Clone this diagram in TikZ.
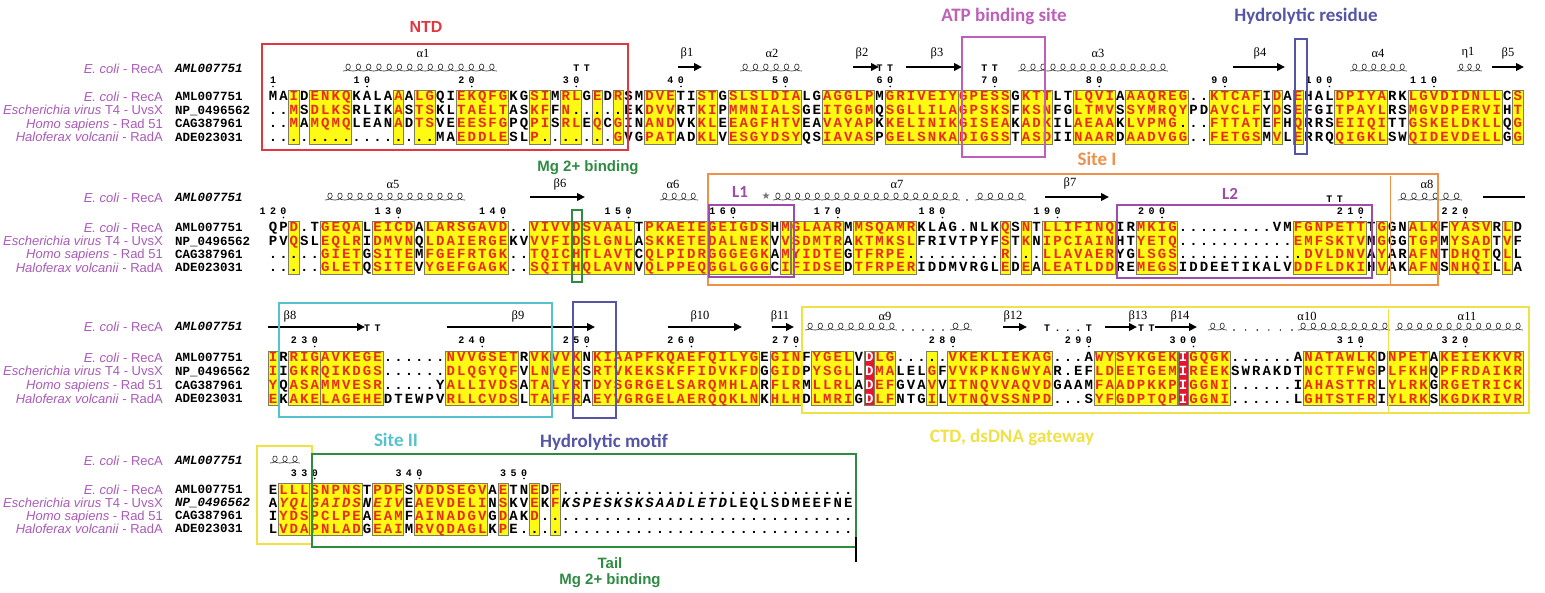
\documentclass[tikz,border=0pt]{standalone}
\usepackage{fontspec}
\setmainfont{Liberation Sans}
\newfontfamily\seqfont{Liberation Mono}
\newfontfamily\carl{Carlito}
\newfontfamily\serf{Liberation Serif}
\newfontfamily\djv{DejaVu Sans}
\usetikzlibrary{arrows.meta}
\definecolor{yel}{RGB}{255,250,20}
\definecolor{ybord}{RGB}{125,125,95}
\definecolor{seqred}{RGB}{232,45,20}
\definecolor{redbg}{RGB}{228,20,50}
\definecolor{ntdc}{RGB}{225,55,65}
\definecolor{atpc}{RGB}{190,95,185}
\definecolor{hydc}{RGB}{85,85,165}
\definecolor{sitec}{RGB}{240,145,75}
\definecolor{lc}{RGB}{160,75,170}
\definecolor{mgc}{RGB}{45,140,65}
\definecolor{cyc}{RGB}{85,195,205}
\definecolor{ctdc}{RGB}{240,225,70}
\definecolor{spc}{RGB}{170,90,185}
% ---------- sequence machinery ----------
\newcount\colc
\newcount\dcnt
\newif\ifinlist
\def\chkloop#1/#2,{\ifnum#1=0 \else\ifnum\colc<#1 \else\ifnum\colc>#2 \else\inlisttrue\fi\fi\expandafter\chkloop\fi}
\def\curital{999/999}
\def\placechar#1{%
  \pgfmathsetmacro\colx{273+(\the\colc-1)*10.46}%
  \def\chcol{black}%
  \inlistfalse\expandafter\chkloop\curyel,0/0,%
  \ifinlist\ifx#1.\else\def\chcol{seqred}\fi\fi
  \inlistfalse\expandafter\chkloop\curred,0/0,%
  \ifinlist\ifx#1.\else\def\chcol{white}\fi\fi
  \inlistfalse\expandafter\chkloop\curital,0/0,%
  \ifinlist\def\chfont{\itshape}\else\def\chfont{}\fi
  \node[seqch,text=\chcol] at (\colx,\rowy) {\chfont #1};}
\def\seqloop#1{\ifx#1\relax\else\global\advance\colc by 1 \placechar#1\expandafter\seqloop\fi}
\newcommand\seqrow[2]{\def\rowy{#1}\global\colc=0 \seqloop#2\relax}
\def\cntloop#1{\ifx#1\relax\else\advance\dcnt by 1 \expandafter\cntloop\fi}
\def\numloop#1{\ifx#1\relax\else\global\advance\colc by 1 \pgfmathsetmacro\colx{273+(\the\colc-1)*10.46}\node[numst] at (\colx,\rowy) {#1};\expandafter\numloop\fi}
\newcommand\numlab[3]{\def\rowy{#1}\dcnt=0 \cntloop#3\relax\global\colc=#2 \global\advance\colc by -\dcnt \numloop#3\relax\pgfmathsetmacro\colx{273+(#2-1)*10.46}\fill (\colx,#1+5.5) circle[radius=0.9pt];}
\newcommand\yboxes[3]{\foreach \a/\b in #1 {\fill[yel,draw=ybord,line width=0.6pt] ({273+(\a-1)*10.46-5.2},#2) rectangle ({273+(\b-1)*10.46+5.2},#3);}}
\newcommand\rbox[3]{\fill[redbg,draw=ybord,line width=0.6pt] ({273+(#1-1)*10.46-5.2},#2) rectangle ({273+(#1-1)*10.46+5.2},#3);}
% helix: a row of cursive loops standing on a baseline (#3)
\newcommand\helix[3]{\pgfmathtruncatemacro\nl{max(1,round((#2-#1)/10))}\pgfmathsetmacro\sl{(#2-#1)/\nl}%
  \foreach \k in {1,...,\nl} {\pgfmathsetmacro\xa{#1+(\k-1)*\sl}%
    \draw[helixst] (\xa,#3) .. controls ({\xa+0.4*\sl},#3) and ({\xa+0.72*\sl},{#3-2}) .. ({\xa+0.72*\sl},{#3-4})
      .. controls ({\xa+0.72*\sl},{#3-6}) and ({\xa+0.62*\sl},{#3-7}) .. ({\xa+0.5*\sl},{#3-7})
      .. controls ({\xa+0.38*\sl},{#3-7}) and ({\xa+0.28*\sl},{#3-6}) .. ({\xa+0.28*\sl},{#3-4})
      .. controls ({\xa+0.28*\sl},{#3-1.3}) and ({\xa+0.6*\sl},#3) .. ({\xa+\sl},#3);}}
\newcommand\strand[3]{\draw[strandst] (#1,#3) -- (#2,#3);}
\newcommand\sslab[3]{\node[sslabst] at (#1,#2) {#3};}
\newcommand\ttat[3]{\pgfmathsetmacro\colx{273+(#2-1)*10.46}\node[numst] at (\colx,#1) {#3};}
\newcommand\hdots[4]{\foreach \i in {1,...,#3} {\fill ({#1+(\i-1)*(#2-#1)/(#3-1)},#4) circle[radius=0.8pt];}}
\def\ecoli{\textit{E. coli} - RecA}
\def\tfour{\textit{Escherichia virus} T4 - UvsX}
\def\homo{\textit{Homo sapiens} - Rad 51}
\def\halo{\textit{Haloferax volcanii} - RadA}
\newcommand\blocklabels[6]{%
 \node[spl] at (163,#1) {\ecoli}; \node[acc,font=\seqfont\bfseries\itshape\fontsize{12.5}{12.5}\selectfont] at (175,#1) {AML007751};
 \node[spl] at (163,#2) {\ecoli}; \node[acc] at (175,#2) {AML007751};
 \node[spl] at (163,#3) {\tfour}; \node[acc,#6] at (175,#3) {NP\_0496562};
 \node[spl] at (163,#4) {\homo}; \node[acc] at (175,#4) {CAG387961};
 \node[spl] at (163,#5) {\halo}; \node[acc] at (175,#5) {ADE023031};}
% ---------- column lists ----------
\def\yelA{3/3,5/8,13/13,15/16,19/23,26/27,29/30,32/32,34/34,37/39,42/43,45/51,54/58,60/66,67/71,73/75,78/81,83/88,91/95,97/97,99/99,103/107,110/118,120/120}
\def\yelB{3/3,6/9,11/14,16/23,26/35,37/42,43/48,50/50,51/55,57/62,71/71,73/73,75/81,84/87,99/105,107/107,110/112,114/117,119/119}
\def\yelC{1/1,3/5,6/11,18/24,26/27,28/30,32/47,49/51,53/56,59/60,64/64,66/75,80/81,82/87,89/92,100/106,108/111,113/120}
\def\yelD{2/4,5/9,11/13,15/21,23/23,26/26,28/28}
\def\redN{999/999}
\def\redC{58/58,88/88}
\begin{document}
\begin{tikzpicture}[x=1pt,y=-1pt,
  seqch/.style={font=\seqfont\bfseries\fontsize{14}{14}\selectfont,inner sep=0pt,text height=8pt,text depth=0pt},
  numst/.style={font=\seqfont\bfseries\fontsize{10}{10}\selectfont,inner sep=0pt,text height=6pt,text depth=0pt},
  spl/.style={font=\fontsize{13}{13}\selectfont,text=spc,inner sep=0pt,text height=8.5pt,text depth=0pt,anchor=east},
  acc/.style={font=\seqfont\bfseries\fontsize{12.5}{12.5}\selectfont,inner sep=0pt,text height=7.5pt,text depth=0pt,anchor=west},
  sslabst/.style={font=\serf\fontsize{12.5}{12.5}\selectfont,inner sep=0pt},
  helixst/.style={line width=0.65pt,black!80},
  strandst/.style={line width=2.2pt,-{Triangle[length=8pt,width=7.5pt]}},
  annbox/.style={line width=1.3pt},
  bigl/.style={font=\carl\bfseries\fontsize{19}{19}\selectfont,inner sep=0pt},
  arl/.style={font=\bfseries\fontsize{15}{15}\selectfont,inner sep=0pt}]
\useasboundingbox (0,0) rectangle (1545,593);
\fill[white] (0,0) rectangle (1545,593);
% ================= BLOCK 1 =================
\yboxes{\yelA}{90.5}{144}
\let\curyel\yelA \let\curred\redN
\seqrow{97}{MAIDENKQKALAAALGQIEKQFGKGSIMRLGEDRSMDVETISTGSLSLDIALGAGGLPMGRIVEIYGPESSGKTTLTLQVIAAAQREG..KTCAFIDAEHALDPIYARKLGVDIDNLLCS}
\seqrow{110.5}{..MSDLKSRLIKASTSKLTAELTASKFFN.....EKDVVRTKIPMMNIALSGEITGGMQSGLLILAGPSKSFKSNFGLTMVSSYMRQYPDAVCLFYDSEFGITPAYLRSMGVDPERVIHT}
\seqrow{124}{..MAMQMQLEANADTSVEEESFGPQPISRLEQCGINANDVKKLEEAGFHTVEAVAYAPKKELINIKGISEAKADKILAEAAKLVPMG...FTTATEFHQRRSEIIQITTGSKELDKLLQG}
\seqrow{137.5}{................MAEDDLESLP.......GVGPATADKLVESGYDSYQSIAVASPGELSNKADIGSSTASDIINAARDAADVGG..FETGSMVLERRQQIGKLSWQIDEVDELLGG}
\blocklabels{69}{97}{110.5}{124}{137.5}{}
\numlab{81}{1}{1}\numlab{81}{10}{10}\numlab{81}{20}{20}\numlab{81}{30}{30}\numlab{81}{40}{40}\numlab{81}{50}{50}
\numlab{81}{60}{60}\numlab{81}{70}{70}\numlab{81}{80}{80}\numlab{81}{92}{90}\numlab{81}{102}{100}\numlab{81}{112}{110}
\helix{343}{497}{71}\sslab{423}{53}{α1}
\ttat{69}{30}{T}\ttat{69}{31}{T}
\strand{678}{702}{67}\sslab{687}{53}{β1}
\helix{740}{802}{71}\sslab{772}{53}{α2}
\strand{853}{879}{67}\sslab{862}{53}{β2}
\ttat{69}{59}{T}\ttat{69}{60}{T}
\strand{906}{962}{67}\sslab{937}{53}{β3}
\ttat{69}{69}{T}\ttat{69}{70}{T}
\helix{1018}{1168}{71}\sslab{1098}{53}{α3}
\strand{1233}{1285}{67}\sslab{1260}{53}{β4}
\helix{1350}{1407}{71}\sslab{1378}{53}{α4}
\helix{1457}{1482}{71}\sslab{1468}{53}{η1}
\strand{1492}{1524}{67}\sslab{1508}{53}{β5}
\draw[ntdc,annbox] (262,44) rectangle (628,150);
\node[font=\bfseries\fontsize{16}{16}\selectfont,text=ntdc,inner sep=0pt] (ntd) at (426,27) {NTD};
\draw[atpc,annbox] (962,37) rectangle (1045,157);
\node[bigl,text=atpc] (atp) at (1004,16) {ATP binding site};
\draw[hydc,line width=1.2pt] (1295,39) rectangle (1307,154);
\node[bigl,text=hydc] (hydr) at (1306,16) {Hydrolytic residue};
% ================= BLOCK 2 =================
\yboxes{\yelB}{221.5}{274.5}
\let\curyel\yelB \let\curred\redN
\seqrow{228}{QPD.TGEQALEICDALARSGAVD..VIVVDSVAALTPKAEIEGEIGDSHMGLAARMMSQAMRKLAG.NLKQSNTLLIFINQIRMKIG.........VMFGNPETTTGGNALKFYASVRLD}
\seqrow{241.5}{PVQSLEQLRIDMVNQLDAIERGEKVVVFIDSLGNLASKKETEDALNEKVVSDMTRAKTMKSLFRIVTPYFSTKNIPCIAINHTYETQ...........EMFSKTVMGGGTGPMYSADTVF}
\seqrow{254.5}{.....GIETGSITEMFGEFRTGK..TQICHTLAVTCQLPIDRGGGEGKAMYIDTEGTFRPE.........R...LLAVAERYGLSGS............DVLDNVAYARAFNTDHQTQLL}
\seqrow{268}{.....GLETQSITEVYGEFGAGK..SQITHQLAVNVQLPPEQGGLGGGCIFIDSEDTFRPERIDDMVRGLEDEALEATLDDREMEGSIDDEETIKALVDDFLDKIHVAKAFNSNHQILLA}
\blocklabels{198}{228}{241.5}{254.5}{268}{}
\numlab{212}{2}{120}\numlab{212}{13}{130}\numlab{212}{23}{140}\numlab{212}{35}{150}\numlab{212}{45}{160}\numlab{212}{55}{170}
\numlab{212}{65}{180}\numlab{212}{76}{190}\numlab{212}{86}{200}\numlab{212}{105}{210}\numlab{212}{115}{220}
\helix{325}{465}{200}\sslab{393}{184}{α5}
\strand{530}{585}{197}\sslab{560}{184}{β6}
\helix{660}{698}{200}\sslab{673}{184}{α6}
\node[font=\djv\fontsize{10}{10}\selectfont,text=black!55,inner sep=0pt] (star) at (766,196) {★};
\helix{773}{960}{200}\fill (967,200) circle[radius=0.8pt];\helix{975}{1026}{200}\sslab{897}{184}{α7}
\strand{1045}{1109}{197}\sslab{1070}{183}{β7}
\ttat{200}{102}{T}\ttat{200}{103}{T}
\helix{1398}{1462}{200}\sslab{1427}{184}{α8}
\draw[line width=2.2pt] (1483,197) -- (1525,197);
\draw[sitec,annbox] (708,174) rectangle (1438,285);
\draw[sitec,line width=1pt] (1390,176) -- (1390,285);
\node[bigl,text=sitec] (site1) at (1097,159) {Site I};
\draw[lc,line width=1.2pt] (709,205) rectangle (794,277);
\node[bigl,font=\carl\bfseries\fontsize{17}{17}\selectfont,text=lc] (l1) at (740,192) {L1};
\draw[lc,line width=1.2pt] (1117,205) rectangle (1372,278);
\node[bigl,font=\carl\bfseries\fontsize{17}{17}\selectfont,text=lc] (l2) at (1230,194) {L2};
\draw[mgc,line width=1.2pt] (572,210) rectangle (582,282);
\node[arl,text=mgc] (mg1) at (588,168) {Mg 2+ binding};
% ================= BLOCK 3 =================
\yboxes{\yelC}{351.5}{405.5}
\rbox{58}{351.5}{405.5}\rbox{88}{351.5}{405.5}
\let\curyel\yelC \let\curred\redC
\seqrow{358}{IRRIGAVKEGE......NVVGSETRVKVVKNKIAAPFKQAEFQILYGEGINFYGELVDLG.....VKEKLIEKAG...AWYSYKGEKIGQGK......ANATAWLKDNPETAKEIEKKVR}
\seqrow{371.5}{IIGKRQIKDGS......DLQGYQFVLNVEKSRTVKEKSKFFIDVKFDGGIDPYSGLLDMALELGFVVKPKNGWYAR.EFLDEETGEMIREEKSWRAKDTNCTTFWGPLFKHQPFRDAIKR}
\seqrow{385.5}{YQASAMMVESR.....YALLIVDSATALYRTDYSGRGELSARQMHLARFLRMLLRLADEFGVAVVITNQVVAQVDGAAMFAADPKKPIGGNI......IAHASTTRLYLRKGRGETRICK}
\seqrow{399}{EKAKELAGEHEDTEWPVRLLCVDSLTAHFRAEYVGRGELAERQQKLNKHLHDLMRIGDLFNTGILVTNQVSSNPD...SYFGDPTQPIGGNI......LGHTSTFRIYLRKSKGDKRIVR}
\blocklabels{327}{358}{371.5}{385.5}{399}{}
\numlab{341}{5}{230}\numlab{341}{21}{240}\numlab{341}{31}{250}\numlab{341}{41}{260}\numlab{341}{51}{270}
\numlab{341}{66}{280}\numlab{341}{79}{290}\numlab{341}{89}{300}\numlab{341}{105}{310}\numlab{341}{115}{320}
\strand{268}{365}{327}\sslab{290}{316}{β8}
\ttat{329}{10}{T}\ttat{329}{11}{T}
\strand{447}{595}{327}\sslab{518}{316}{β9}
\strand{668}{742}{327}\sslab{700}{316}{β10}
\strand{772}{794}{327}\sslab{780}{316}{β11}
\helix{805}{897}{330}\hdots{903}{943}{5}{330}\helix{950}{972}{330}\sslab{885}{316}{α9}
\strand{1003}{1027}{327}\sslab{1013}{316}{β12}
\ttat{329}{75}{T}\ttat{329}{76}{.}\ttat{329}{77}{.}\ttat{329}{78}{.}\ttat{329}{79}{T}
\strand{1105}{1137}{327}\sslab{1138}{316}{β13}
\ttat{329}{84}{T}\ttat{329}{85}{T}
\strand{1155}{1197}{327}\sslab{1180}{316}{β14}
\helix{1208}{1227}{330}\hdots{1234}{1292}{6}{330}\helix{1298}{1390}{330}\sslab{1307}{316}{α10}
\helix{1395}{1523}{330}\sslab{1467}{316}{α11}
\draw[cyc,annbox] (279,303) rectangle (552,417);
\node[bigl,text=cyc] (site2) at (396,440) {Site II};
\draw[hydc,line width=1.2pt] (573,302) rectangle (616,418);
\node[bigl,text=hydc] (hmot) at (604,442) {Hydrolytic motif};
\draw[ctdc,annbox] (802,307) rectangle (1529,413);
\draw[ctdc,line width=1pt] (1388,309) -- (1388,413);
\node[bigl,text=ctdc] (ctd) at (1012,437) {CTD, dsDNA gateway};
% ================= BLOCK 4 =================
\yboxes{\yelD}{483.5}{535.5}
\let\curyel\yelD \let\curred\redN
\seqrow{490}{ELLLSNPNSTPDFSVDDSEGVAETNEDF............................}
\def\curital{2/13,29/44}
\seqrow{503}{AYQLGAIDSNEIVEAEVDELINSKVEKFKSPESKSKSAADLETDLEQLSDMEEFNE}
\def\curital{999/999}
\seqrow{516}{IYDSPCLPEAEAMFAINADGVGDAKD..............................}
\seqrow{529}{LVDAPNLADGEAIMRVQDAGLKPE................................}
\blocklabels{461}{490}{503}{516}{529}{font=\seqfont\bfseries\itshape\fontsize{12.5}{12.5}\selectfont}
\numlab{473}{5}{330}\numlab{473}{15}{340}\numlab{473}{25}{350}
\helix{270}{300}{463}
\draw[ctdc,annbox] (257,446) rectangle (312,544);
\draw[mgc,annbox] (312,454) rectangle (856,547);
\draw[black,line width=1.6pt] (856,537) -- (856,562);
\node[arl,text=mgc] (tail) at (610,563) {Tail};
\node[arl,text=mgc] (mg2) at (610,581) {Mg 2+ binding};
\end{tikzpicture}
\end{document}
